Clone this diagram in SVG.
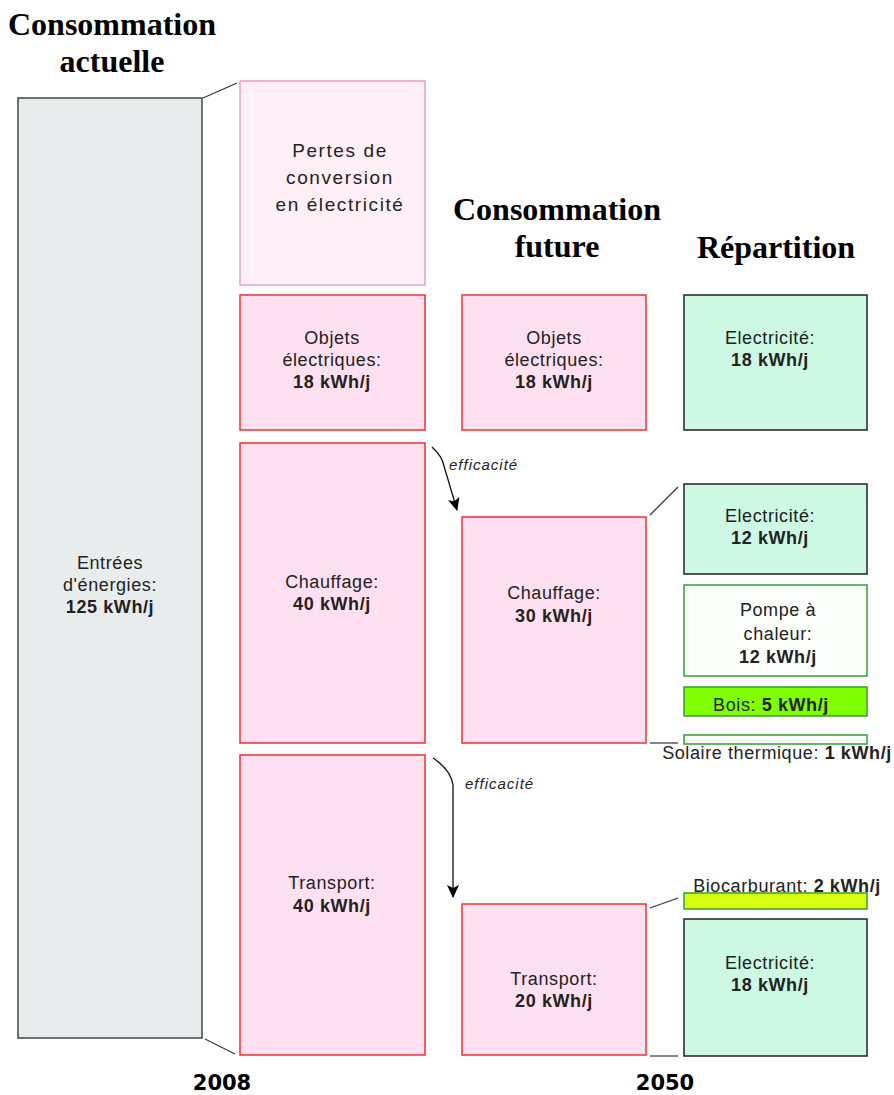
<svg xmlns="http://www.w3.org/2000/svg" width="894" height="1095" viewBox="0 0 894 1095">
<style>
.t{font-family:"Liberation Sans",Arial,sans-serif;font-size:18px;letter-spacing:0.6px;fill:#222;text-anchor:middle}
.b{font-weight:bold}
.h{font-family:"Liberation Serif","Times New Roman",serif;font-size:32px;font-weight:bold;fill:#000;text-anchor:middle}
.y{font-family:"DejaVu Sans",Verdana,sans-serif;font-size:21px;font-weight:bold;fill:#000;text-anchor:middle}
.red{fill:#ffe0f0;stroke:#f03030;stroke-width:1.5}
.grn{fill:#ccf8e4;stroke:#222;stroke-width:1.5}
.ln{stroke:#333;stroke-width:1.2;fill:none}
.it{font-family:"Liberation Sans",Arial,sans-serif;font-size:15px;letter-spacing:1px;font-style:italic;fill:#222}
</style>
<defs>
<marker id="ah" markerWidth="13" markerHeight="12" refX="12" refY="6" orient="auto" markerUnits="userSpaceOnUse">
<path d="M0,0 L13,6 L0,12 L3,6 z" fill="#000"/>
</marker>
</defs>
<g id="titles">
<text class="h" x="112" y="35">Consommation</text>
<text class="h" x="112" y="72">actuelle</text>
<text class="h" x="557" y="220">Consommation</text>
<text class="h" x="557" y="257">future</text>
<text class="h" x="776" y="258">Répartition</text>
<text class="y" x="222" y="1090">2008</text>
<text class="y" x="665" y="1090">2050</text>
</g>
<g id="connectors">
<line class="ln" x1="203" y1="98" x2="237" y2="83"/>
<line class="ln" x1="205" y1="1039" x2="235" y2="1054"/>
<line class="ln" x1="650" y1="515" x2="678" y2="487"/>
<line class="ln" x1="650" y1="743" x2="678" y2="743"/>
<line class="ln" x1="650" y1="908" x2="678" y2="898"/>
<line class="ln" x1="650" y1="1056" x2="678" y2="1056"/>
<path d="M432,447 Q442,456 444,466 L457,510" stroke="#111" stroke-width="1.3" fill="none" marker-end="url(#ah)"/>
<path d="M433,758 Q451,770 453,785 L453,897" stroke="#111" stroke-width="1.3" fill="none" marker-end="url(#ah)"/>
<text class="it" x="449" y="470">efficacité</text>
<text class="it" x="465" y="789">efficacité</text>
</g>
<g id="entrees">
<rect x="18" y="98" width="184" height="940" fill="#e8ecec" stroke="#444" stroke-width="1.5"/>
<text class="t" x="110" y="569">Entrées</text>
<text class="t" x="110" y="591">d'énergies:</text>
<text class="t b" x="110" y="613">125 kWh/j</text>
</g>
<g id="pertes">
<rect x="240" y="81" width="185" height="204" fill="#fff0f8" stroke="#e8a0c0" stroke-width="1.5"/>
<text class="t" x="340" y="157" style="font-size:19px;letter-spacing:1.6px">Pertes de</text>
<text class="t" x="340" y="184" style="font-size:19px;letter-spacing:1.6px">conversion</text>
<text class="t" x="340" y="211" style="font-size:19px;letter-spacing:1.6px">en électricité</text>
</g>
<g id="objets2008">
<rect class="red" x="240" y="295" width="185" height="135"/>
<text class="t" x="332" y="344">Objets</text>
<text class="t" x="332" y="366">électriques:</text>
<text class="t b" x="332" y="388">18 kWh/j</text>
</g>
<g id="chauffage2008">
<rect class="red" x="240" y="443" width="185" height="300"/>
<text class="t" x="332" y="588">Chauffage:</text>
<text class="t b" x="332" y="610">40 kWh/j</text>
</g>
<g id="transport2008">
<rect class="red" x="240" y="755" width="185" height="300"/>
<text class="t" x="332" y="889">Transport:</text>
<text class="t b" x="332" y="912">40 kWh/j</text>
</g>
<g id="objets2050">
<rect class="red" x="462" y="295" width="184" height="135"/>
<text class="t" x="554" y="344">Objets</text>
<text class="t" x="554" y="366">électriques:</text>
<text class="t b" x="554" y="388">18 kWh/j</text>
</g>
<g id="chauffage2050">
<rect class="red" x="462" y="517" width="184" height="226"/>
<text class="t" x="554" y="599">Chauffage:</text>
<text class="t b" x="554" y="622">30 kWh/j</text>
</g>
<g id="transport2050">
<rect class="red" x="462" y="904" width="184" height="151"/>
<text class="t" x="554" y="985">Transport:</text>
<text class="t b" x="554" y="1007">20 kWh/j</text>
</g>
<g id="elec18a">
<rect class="grn" x="684" y="295" width="183" height="135"/>
<text class="t" x="770" y="344">Electricité:</text>
<text class="t b" x="770" y="366">18 kWh/j</text>
</g>
<g id="elec12">
<rect class="grn" x="684" y="484" width="183" height="90"/>
<text class="t" x="770" y="522">Electricité:</text>
<text class="t b" x="770" y="544">12 kWh/j</text>
</g>
<g id="pompe">
<rect x="684" y="585" width="183" height="91" fill="#fcfffc" stroke="#30a030" stroke-width="1.5"/>
<text class="t" x="778" y="616">Pompe à</text>
<text class="t" x="778" y="640">chaleur:</text>
<text class="t b" x="778" y="663">12 kWh/j</text>
</g>
<g id="bois">
<rect x="684" y="687" width="183" height="29" fill="#80ff00" stroke="#30a030" stroke-width="1.5"/>
<text class="t" x="771" y="711">Bois: <tspan class="b">5 kWh/j</tspan></text>
</g>
<g id="solaire">
<rect x="684" y="735" width="183" height="9" fill="#fcfffc" stroke="#30a030" stroke-width="1.5"/>
<text class="t" x="777" y="759">Solaire thermique: <tspan class="b">1 kWh/j</tspan></text>
</g>
<g id="biocarburant">
<rect x="684" y="893" width="183" height="16" fill="#d8ff10" stroke="#30a030" stroke-width="1.5"/>
<text class="t" x="787" y="892">Biocarburant: <tspan class="b">2 kWh/j</tspan></text>
</g>
<g id="elec18b">
<rect class="grn" x="684" y="919" width="183" height="137"/>
<text class="t" x="770" y="969">Electricité:</text>
<text class="t b" x="770" y="991">18 kWh/j</text>
</g>
</svg>
